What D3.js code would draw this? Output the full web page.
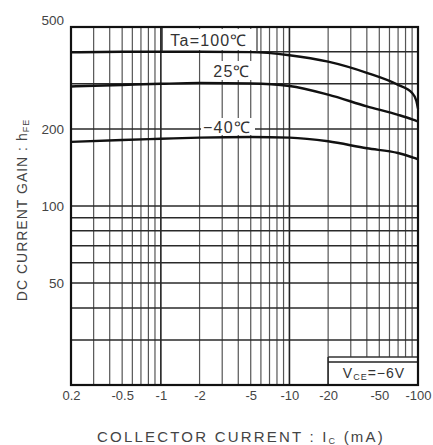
<!DOCTYPE html>
<html><head><meta charset="utf-8">
<script src="https://cdn.jsdelivr.net/npm/d3@7"></script>
<style>
html,body{margin:0;padding:0;background:#fff;}
svg{display:block;font-family:"Liberation Sans",Arial,sans-serif;}
</style></head>
<body><svg id="c" width="433" height="445"></svg>
<script>
// ---- data ----
const xTickValues = [0.2, 0.5, 1, 2, 5, 10, 20, 50, 100];
const xTickLabels = ["0.2", "-0.5", "-1", "-2", "-5", "-10", "-20", "-50", "-100"];
const yTickValues = [50, 100, 200, 500];
const yTickLabels = ["50", "100", "200", "500"];
const xGridValues = [0.3,0.4,0.5,0.6,0.7,0.8,0.9,1,2,3,4,5,6,7,8,9,10,20,30,40,50,60,70,80,90];
const yGridValues = [30,40,50,60,70,80,90,100,200,300,400];
const current = [0.2, 0.5, 1, 2, 5, 10, 20, 40, 70, 90, 97, 100];
const gain100 = [398, 400, 400, 400, 399, 388, 366, 331, 297, 276, 258, 240];
const gain25  = [293, 297, 300, 302, 301, 294, 272, 245, 227, 218, 215, 214];
const gainM40 = [178, 181, 183, 185, 186, 185, 179, 168, 161, 155, 153, 152];
const seriesLabels = ["Ta=100\u2103", "25\u2103", "\u221240\u2103"];

// ---- scales ----
const svg = d3.select("#c");
const x = d3.scaleLog().domain([0.2, 100]).range([71, 418]);
const y = d3.scaleLog().domain([20, 500]).range([385, 27]);
const X0 = x(0.2), X1 = x(100), Y0 = y(500), Y1 = y(20);

// grid
const g = svg.append("g");
g.selectAll("line.v").data(xGridValues).enter().append("line")
  .attr("x1", d => x(d)).attr("x2", d => x(d)).attr("y1", Y0).attr("y2", Y1)
  .attr("stroke", d => (d === 1 || d === 10) ? "#222" : "#555")
  .attr("stroke-width", d => (d === 1 || d === 10) ? 1.6 : 1.2);
g.selectAll("line.h").data(yGridValues).enter().append("line")
  .attr("x1", X0).attr("x2", X1).attr("y1", d => y(d)).attr("y2", d => y(d))
  .attr("stroke", "#2a2a2a").attr("stroke-width", 1.5);

// VCE box
const vbox = svg.append("g");
vbox.append("rect").attr("x", x(20)).attr("y", 357).attr("width", X1 - x(20)).attr("height", Y1 - 357)
  .attr("fill", "#fff").attr("stroke", "none");
vbox.append("line").attr("x1", x(20)).attr("x2", X1).attr("y1", 357).attr("y2", 357).attr("stroke", "#333").attr("stroke-width", 1.3);
vbox.append("line").attr("x1", x(20)).attr("x2", X1).attr("y1", 362).attr("y2", 362).attr("stroke", "#222").attr("stroke-width", 1.5);
vbox.append("line").attr("x1", x(20)).attr("x2", x(20)).attr("y1", 357).attr("y2", Y1).attr("stroke", "#222").attr("stroke-width", 1.5);
const vt = vbox.append("text").attr("x", 374).attr("y", 378).attr("text-anchor", "middle")
  .attr("font-size", 14).attr("letter-spacing", 1).attr("fill", "#333");
vt.append("tspan").text("V");
vt.append("tspan").attr("font-size", 9).attr("dy", 2).text("CE");
vt.append("tspan").attr("dy", -2).text("=\u22126V");

// curves
const line = d3.line().x((d, i) => x(current[i])).y(d => y(d)).curve(d3.curveMonotoneX);
[gain100, gain25, gainM40].forEach(s => {
  svg.append("path").attr("d", line(s)).attr("fill", "none").attr("stroke", "#111").attr("stroke-width", 2.4);
});

// series labels with white background
const labs = [
  {t: seriesLabels[0], x0: 162, x1: 257, y0: 29, y1: 50, tx: 209, ty: 46},
  {t: seriesLabels[1], x0: 208, x1: 254, y0: 61, y1: 80, tx: 232, ty: 77},
  {t: seriesLabels[2], x0: 201, x1: 255, y0: 118, y1: 135, tx: 227, ty: 133}
];
labs.forEach(l => {
  svg.append("rect").attr("x", l.x0).attr("y", l.y0).attr("width", l.x1 - l.x0).attr("height", l.y1 - l.y0).attr("fill", "#fff");
  svg.append("text").attr("x", l.tx).attr("y", l.ty).attr("text-anchor", "middle")
    .attr("font-size", 16).attr("letter-spacing", 1.2).attr("fill", "#333").text(l.t);
});
// frame around Ta label sides
svg.append("line").attr("x1", 162).attr("x2", 162).attr("y1", Y0).attr("y2", y(400)).attr("stroke", "#222").attr("stroke-width", 1.4);
svg.append("line").attr("x1", 257).attr("x2", 257).attr("y1", Y0).attr("y2", y(400)).attr("stroke", "#333").attr("stroke-width", 1.2);

// frame
svg.append("rect").attr("x", X0).attr("y", Y0).attr("width", X1 - X0).attr("height", Y1 - Y0)
  .attr("fill", "none").attr("stroke", "#111").attr("stroke-width", 2.2);

// axes
const xAxis = d3.axisBottom(x).tickValues(xTickValues).tickSize(0).tickPadding(6)
  .tickFormat((d, i) => xTickLabels[i]);
const gx = svg.append("g").attr("transform", `translate(0,${Y1})`).call(xAxis);
gx.select(".domain").remove();
gx.selectAll("text").attr("font-size", 13).attr("fill", "#444").attr("font-family", "Liberation Sans, Arial, sans-serif");

const yAxis = d3.axisLeft(y).tickValues(yTickValues).tickSize(0).tickPadding(7)
  .tickFormat((d, i) => yTickLabels[i]);
const gy = svg.append("g").attr("transform", `translate(${X0},0)`).call(yAxis);
gy.select(".domain").remove();
gy.selectAll("text").attr("font-size", 13.5).attr("fill", "#444").attr("font-family", "Liberation Sans, Arial, sans-serif")
  .attr("dy", d => d === 500 ? "-0.2em" : "0.32em");

// axis titles
const xt = svg.append("text").attr("x", 241).attr("y", 442).attr("text-anchor", "middle")
  .attr("font-size", 15).attr("letter-spacing", 2.2).attr("fill", "#444");
xt.append("tspan").text("COLLECTOR CURRENT : I");
xt.append("tspan").attr("font-size", 9).attr("dy", 2).text("C");
xt.append("tspan").attr("dy", -2).text(" (mA)");

const yt = svg.append("text").attr("transform", "translate(27,210) rotate(-90)").attr("text-anchor", "middle")
  .attr("font-size", 14).attr("letter-spacing", 1).attr("fill", "#444");
yt.append("tspan").text("DC CURRENT GAIN : h");
yt.append("tspan").attr("font-size", 9).attr("dy", 2).text("FE");
</script></body></html>
